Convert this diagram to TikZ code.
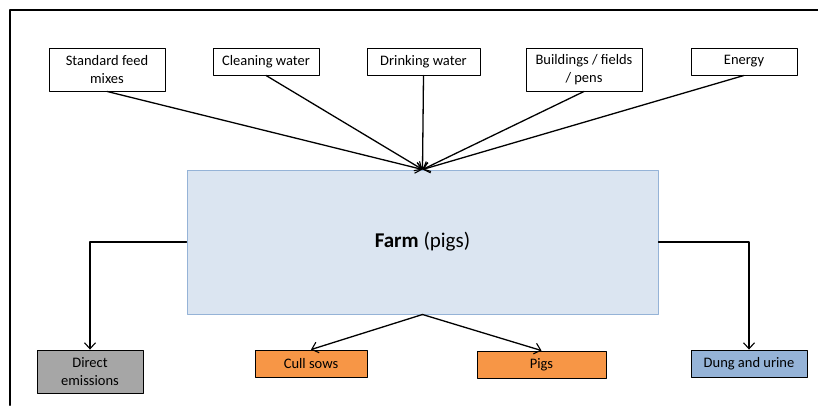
\documentclass[tikz,border=0pt]{standalone}
\usepackage{fontspec}
\setmainfont{Carlito}
\usepackage{tikz}
\usetikzlibrary{positioning}
\usepackage{xcolor}
\usetikzlibrary{arrows.meta}

\definecolor{farmfill}{HTML}{DBE5F1}
\definecolor{farmline}{HTML}{95B3D7}
\definecolor{emisfill}{HTML}{A6A6A6}
\definecolor{outfill}{HTML}{F79646}
\definecolor{dungfill}{HTML}{95B3D7}

\tikzset{
  inbox/.style={draw, line width=0.9pt, align=center, inner sep=0pt, minimum height=27pt,
    font=\fontsize{14.5}{18}\selectfont},
  outbox/.style={inbox},
  flow/.style={line width=1.3pt, -{Straight Barb[length=6pt, width=11pt, line width=1.1pt]}}
}

\begin{document}
\begin{tikzpicture}[x=1pt, y=-1pt, line cap=round, line join=round]
        \useasboundingbox (0,0) rectangle (818,405);

        % frame (cut off at right and bottom)
        \draw[line width=2pt] (9.5,405) -- (9.5,10) -- (818,10);

        % inputs
        \node[inbox, minimum width=116pt, minimum height=43pt] (feed) at (107,69.5) {Standard feed\\mixes};
        \node[inbox, minimum width=106pt] (clean) at (266,61.5) {Cleaning water};
        \node[inbox, minimum width=113pt] (drink) at (423.5,61.5) {Drinking water};
        \node[inbox, minimum width=116pt, minimum height=43pt] (build) at (584,69.5) {Buildings / fields\\/ pens};
        \node[inbox, minimum width=106pt] (energy) at (744,61.5) {Energy};

        % farm
        \node[draw=farmline, fill=farmfill, line width=1pt, minimum width=471pt, minimum height=144pt,
          font=\fontsize{21}{25}\selectfont] (farm) at (422.5,242) {\textbf{Farm} (pigs)};

        % outputs
        \node[outbox, fill=emisfill, minimum width=106pt, minimum height=43pt] (emis) at (90,371.5) {Direct\\emissions};
        \node[outbox, fill=outfill, minimum width=112pt] (cull) at (311,363.5) {Cull sows};
        \node[outbox, fill=outfill, minimum width=129pt] (pigs) at (541.5,364.5) {Pigs};
        \node[outbox, fill=dungfill, minimum width=116pt] (dung) at (749,363.5) {Dung and urine};

        % input arrows
        \foreach \src in {feed, clean, drink, build, energy}
          \draw[flow] (\src.south) -- (farm.north);

        % output arrows
        \draw[flow] (farm.west) -| (emis.north);
        \draw[flow] (farm.south) -- (cull.north);
        \draw[flow] (farm.south) -- (pigs.north);
        \draw[flow] (farm.east) -| (dung.north);
\end{tikzpicture}
\end{document}
